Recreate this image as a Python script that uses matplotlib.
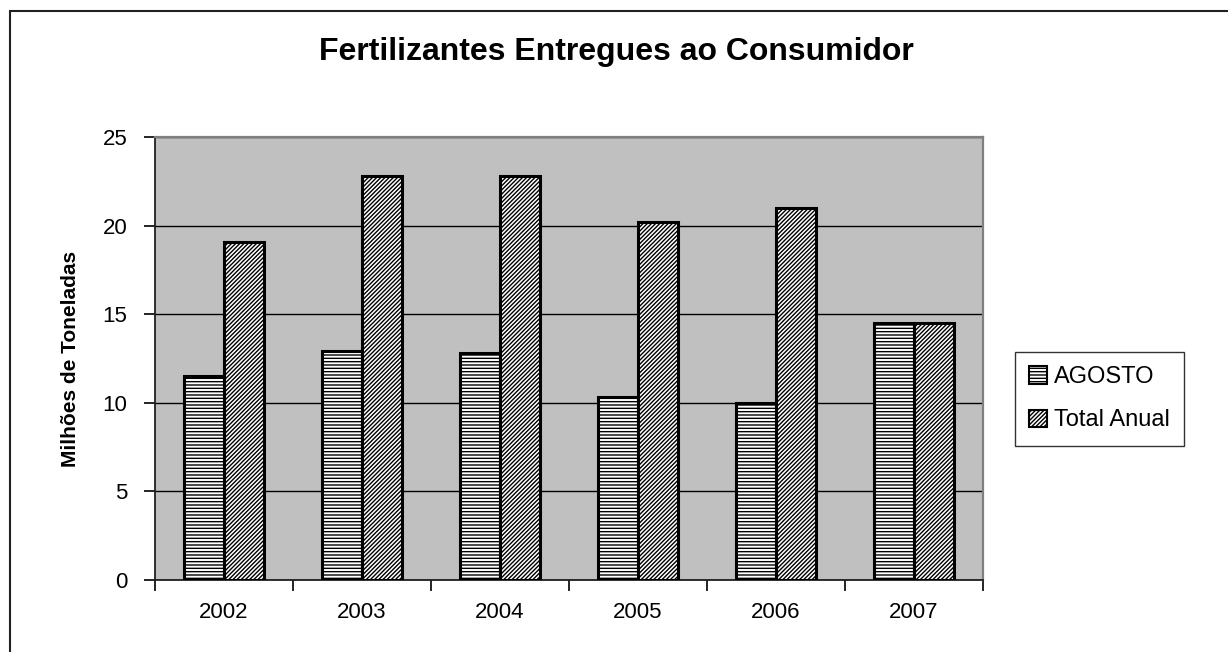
import matplotlib
matplotlib.use("Agg")
import matplotlib.pyplot as plt
from matplotlib.patches import Rectangle
import numpy as np

years = ["2002", "2003", "2004", "2005", "2006", "2007"]
agosto = [11.5, 12.9, 12.8, 10.3, 10.0, 14.5]
total_anual = [19.1, 22.8, 22.8, 20.2, 21.0, 14.5]
yticks = [0, 5, 10, 15, 20, 25]

plt.rcParams['font.family'] = ['Liberation Sans', 'DejaVu Sans']
plt.rcParams['hatch.linewidth'] = 1.0

fig = plt.figure(figsize=(12.28, 6.52), dpi=100)
ax = fig.add_axes([155/1228, 72/652, 828/1228, 443/652])
ax.set_facecolor('#c0c0c0')

x = np.arange(len(years))
w = 0.29
ax.bar(x - w/2, agosto, w, color='white', edgecolor='black', hatch='-----',
       linewidth=2.2, label='AGOSTO', zorder=3)
ax.bar(x + w/2, total_anual, w, color='white', edgecolor='black', hatch='////////',
       linewidth=2.2, label='Total Anual', zorder=3)

ax.set_xlim(-0.5, len(years) - 0.5)
ax.set_ylim(0, 25)
ax.set_yticks(yticks)
ax.set_yticklabels([str(v) for v in yticks], fontsize=16)
ax.set_xticks(x)
ax.set_xticklabels(years, fontsize=16)
ax.set_xticks(np.arange(-0.5, len(years), 1.0), minor=True)
ax.tick_params(axis='x', which='major', length=0, pad=16)
ax.tick_params(axis='x', which='minor', length=8, width=1.2, direction='out')
ax.tick_params(axis='y', length=8, width=1.2, direction='out', pad=12)

ax.yaxis.grid(True, color='black', linewidth=1.0)
ax.set_axisbelow(True)

for s in ['left', 'bottom']:
    ax.spines[s].set_color('#202020')
    ax.spines[s].set_linewidth(1.3)
for s in ['top', 'right']:
    ax.spines[s].set_color('#808080')
    ax.spines[s].set_linewidth(1.6)

ax.set_ylabel('Milhões de Toneladas', fontsize=15, fontweight='bold', labelpad=16)

fig.text(616/1228, 1 - 52/652, 'Fertilizantes Entregues ao Consumidor',
         fontsize=23, fontweight='bold', ha='center', va='center')

leg = fig.legend(loc='upper left', bbox_to_anchor=(1015/1228, 1 - 352/652),
                 fontsize=17, frameon=True, fancybox=False, handlelength=0.75,
                 handleheight=0.75, handletextpad=0.3, borderpad=0.6,
                 labelspacing=0.9, borderaxespad=0)
leg.get_frame().set_edgecolor('black')
leg.get_frame().set_linewidth(1.0)
for p in leg.get_patches():
    p.set_linewidth(1.5)

fig.patches.append(Rectangle((10/1228, -0.1), 1.2, 1.1 - 11/652,
                             transform=fig.transFigure, fill=False,
                             edgecolor='#202020', linewidth=1.5))

fig.savefig('out.png', dpi=100)
